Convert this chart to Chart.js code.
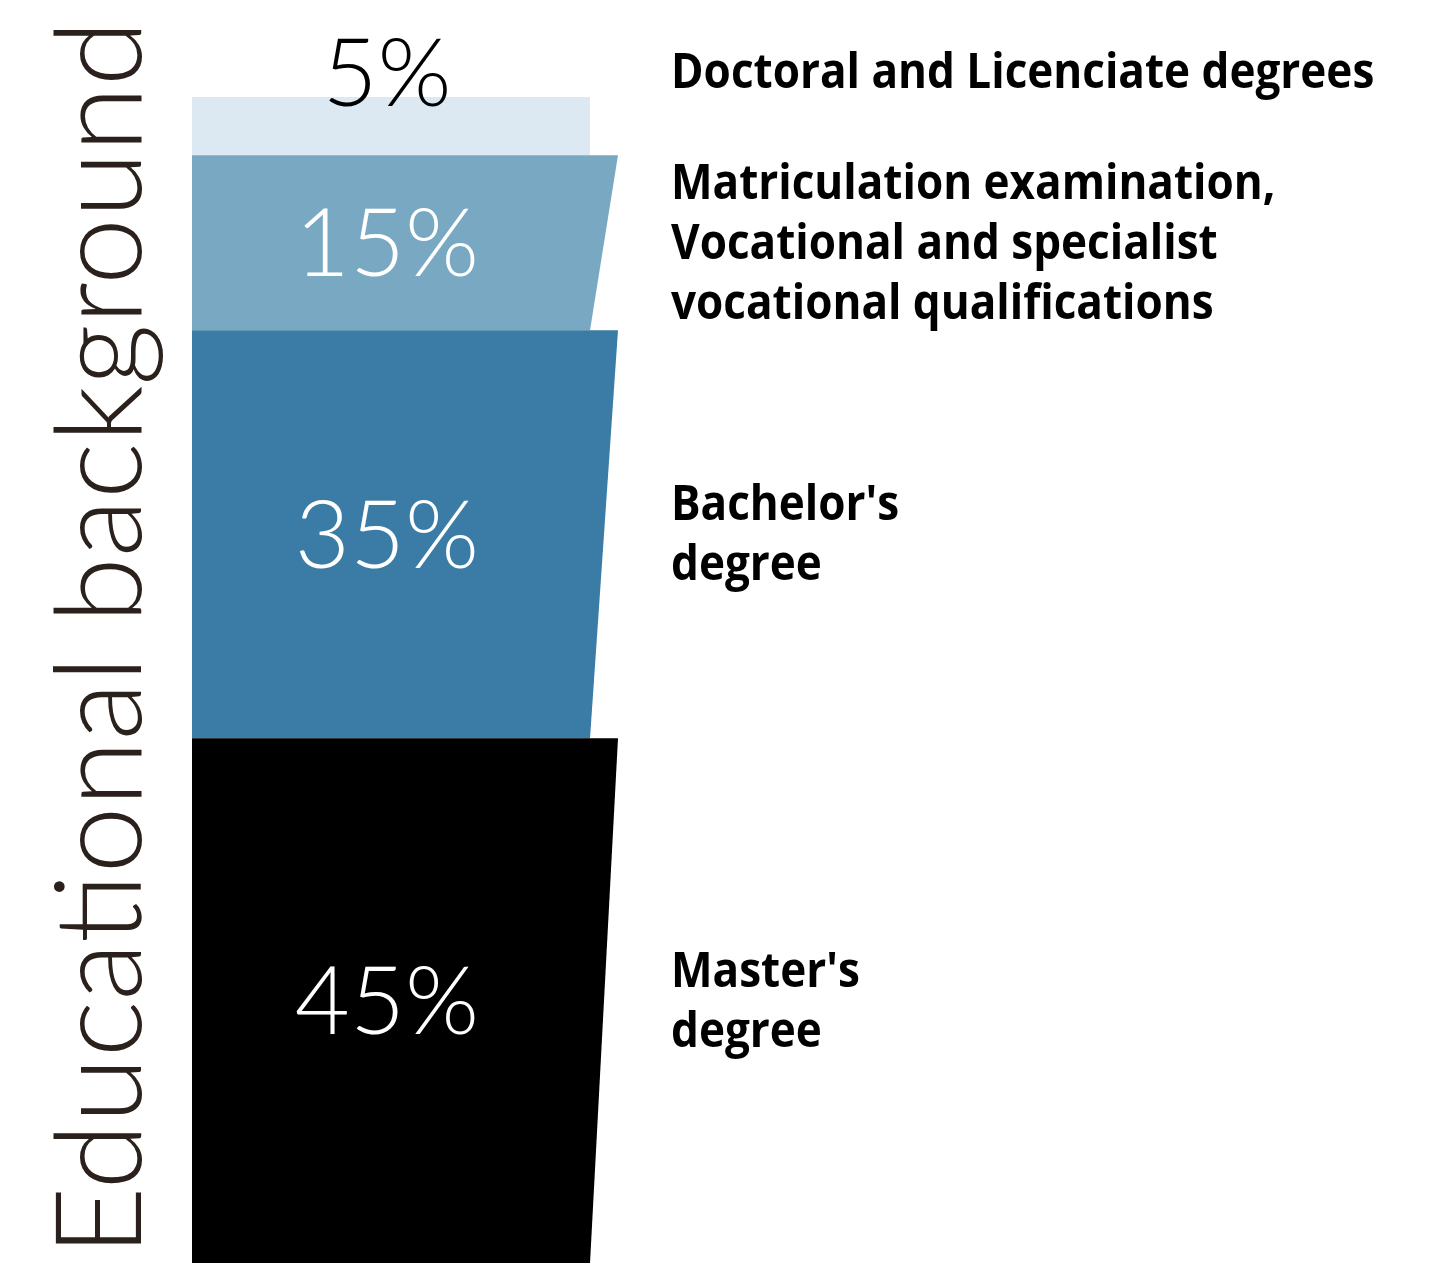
<!DOCTYPE html>
<html lang="en">
<head>
    <meta charset="UTF-8">
    <title>Educational background</title>
    <script src="https://cdn.jsdelivr.net/npm/chart.js"></script>
    <style>
        body { margin: 0; background: #fff; }
        #wrap { width: 1444px; height: 1263px; }
    </style>
</head>
<body>
<div id="wrap"><canvas id="myChart" width="1444" height="1263"></canvas></div>
<script>
    // data, bottom segment first
    const categories = ['Educational background'];
    const segmentLabels = [
        ["Master's", 'degree'],
        ["Bachelor's", 'degree'],
        ['Matriculation examination,', 'Vocational and specialist', 'vocational qualifications'],
        ['Doctoral and Licenciate degrees']
    ];
    const segmentValues = [45, 35, 15, 5];
    const segmentColors = ['#000000', '#3a7ca5', '#79a8c3', '#dce9f2'];
    const percentColors = ['#ffffff', '#ffffff', '#ffffff', '#000000'];

    const datasets = segmentValues.map(function (v, i) {
        return {
            label: segmentLabels[i].join(' '),
            data: [v],
            backgroundColor: segmentColors[i],
            borderWidth: 0,
            barPercentage: 1,
            categoryPercentage: 1
        };
    });

    const SLANT = 28;

    // draw each segment as a trapezoid (right edge leans out at the top)
    const shapePlugin = {
        id: 'shape',
        beforeDatasetDraw(chart, args) {
            const ctx = chart.ctx;
            const i = args.index;
            const el = args.meta.data[0];
            const left = el.x - el.width / 2;
            const right = el.x + el.width / 2;
            const extra = i < segmentValues.length - 1 ? SLANT : 0;
            ctx.save();
            ctx.fillStyle = segmentColors[i];
            ctx.beginPath();
            ctx.moveTo(left, el.base);
            ctx.lineTo(right, el.base);
            ctx.lineTo(right + extra, el.y);
            ctx.lineTo(left, el.y);
            ctx.closePath();
            ctx.fill();
            ctx.restore();
            return false;
        },
        afterDraw(chart) {
            const ctx = chart.ctx;
            ctx.save();

            // label squeeze so the widest line fits like the original
            ctx.font = '700 49px "Open Sans", sans-serif';
            const squeeze = 714 / ctx.measureText(segmentLabels[3][0]).width;

            chart.data.datasets.forEach(function (ds, i) {
                const el = chart.getDatasetMeta(i).data[0];
                let cy = (el.y + el.base) / 2;
                if (el.base - el.y < 100) cy = el.y - 25;

                // percentage
                ctx.font = '300 95px Lato, sans-serif';
                ctx.fillStyle = percentColors[i];
                ctx.textAlign = 'center';
                ctx.textBaseline = 'middle';
                ctx.fillText(segmentValues[i] + '%', el.x - 4, cy + 3);

                // category text on the right
                const lines = segmentLabels[i];
                ctx.font = '700 49px "Open Sans", sans-serif';
                ctx.fillStyle = '#000000';
                ctx.textAlign = 'left';
                ctx.textBaseline = 'alphabetic';
                let y = cy - (lines.length - 1) * 30 + 16;
                lines.forEach(function (line) {
                    ctx.save();
                    ctx.translate(671, y);
                    ctx.scale(squeeze * 0.985, 1);
                    ctx.fillText(line, 0, 0);
                    ctx.restore();
                    y += 60;
                });
            });

            // vertical title
            ctx.translate(141, 1256);
            ctx.rotate(-Math.PI / 2);
            ctx.font = '300 120px Lato, sans-serif';
            ctx.fillStyle = '#2b211c';
            ctx.textAlign = 'left';
            ctx.textBaseline = 'alphabetic';
            ctx.fillText(categories[0], 0, 0, 1240);
            ctx.restore();
        }
    };

    new Chart('myChart', {
        type: 'bar',
        data: { labels: categories, datasets: datasets },
        options: {
            responsive: false,
            animation: false,
            devicePixelRatio: 1,
            layout: { padding: { left: 192, right: 854, top: 97, bottom: 0 } },
            plugins: { legend: { display: false }, tooltip: { enabled: false } },
            scales: {
                x: { stacked: true, display: false },
                y: { stacked: true, display: false, min: 0, max: 100 }
            }
        },
        plugins: [shapePlugin]
    });
</script>
</body>
</html>
